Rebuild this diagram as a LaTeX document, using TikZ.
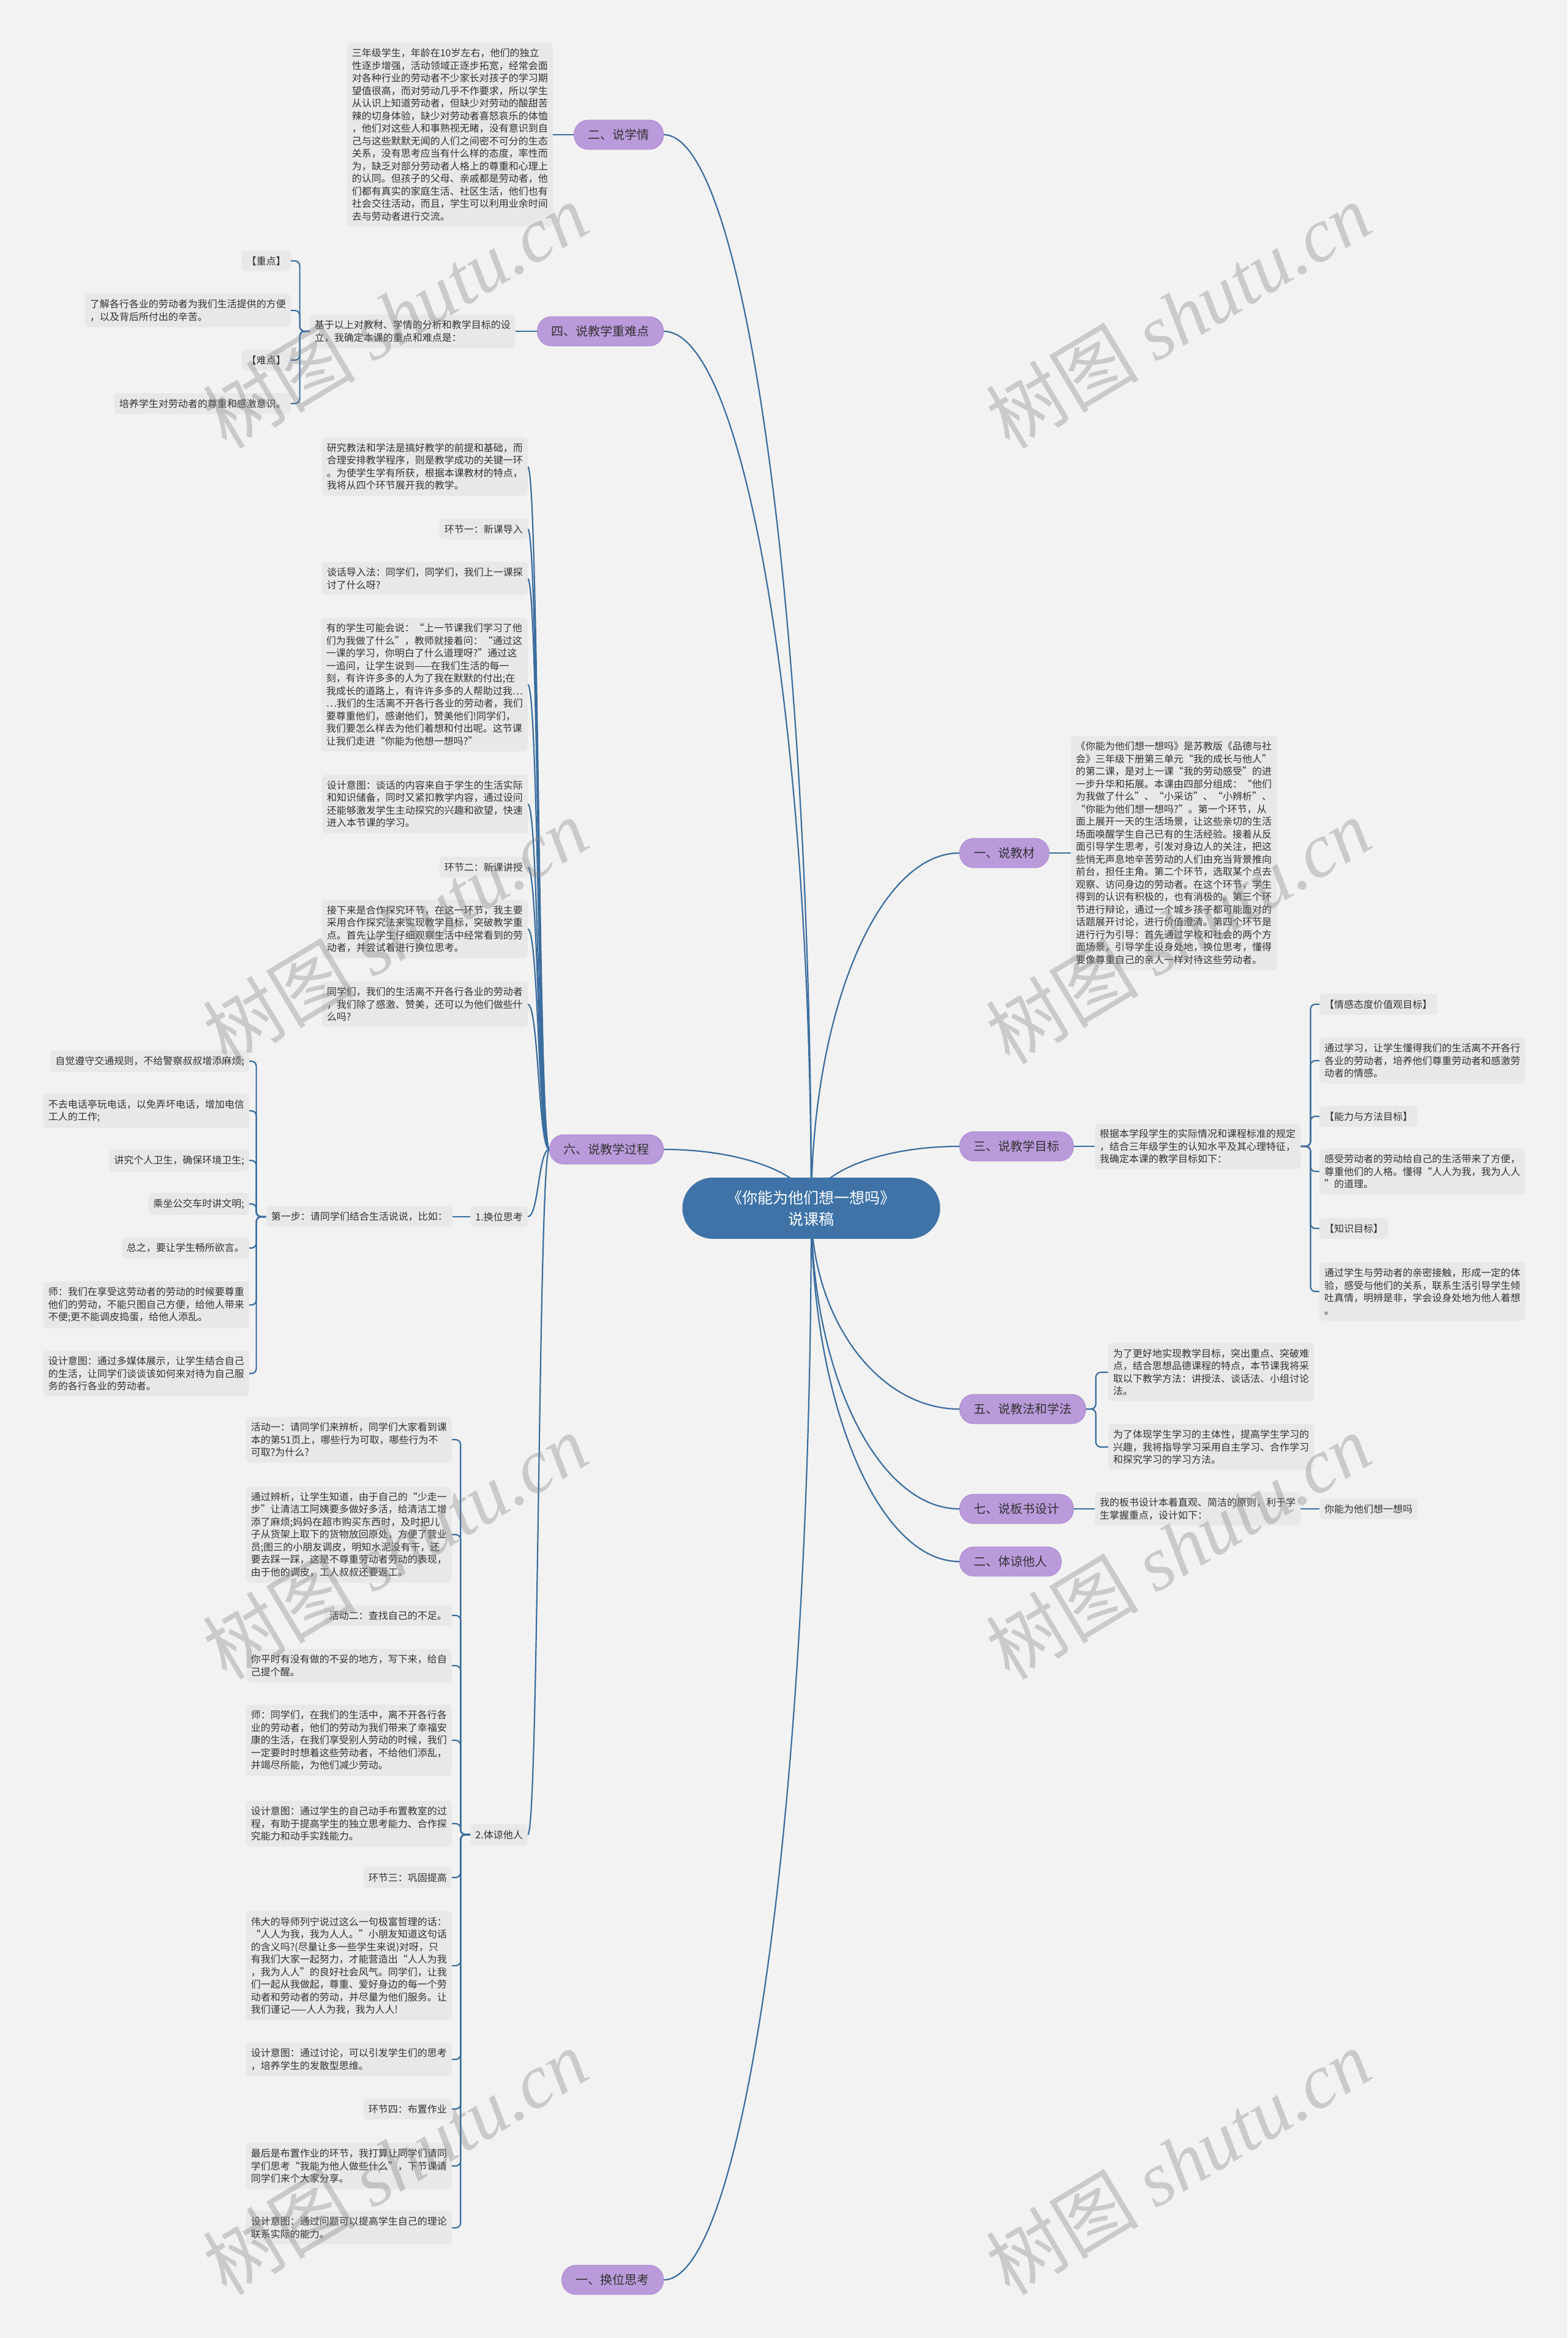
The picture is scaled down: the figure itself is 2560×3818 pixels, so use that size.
\documentclass[tikz,border=0pt]{standalone}
\usepackage{fontspec}
\setmainfont{Noto Sans CJK SC}
\newfontfamily\wmlatin{Liberation Serif}
\usetikzlibrary{calc}
\definecolor{paper}{HTML}{F2F2F2}
\definecolor{boxgray}{HTML}{E8E8E8}
\definecolor{inkgray}{HTML}{333333}
\definecolor{linkblue}{HTML}{3B6D9E}
\definecolor{rootblue}{HTML}{3F73A7}
\definecolor{topicpurple}{HTML}{B99BDB}
\definecolor{topicedge}{HTML}{A985CF}
\pgfdeclarelayer{paperlayer}
\pgfdeclarelayer{linklayer}
\pgfsetlayers{paperlayer,linklayer,main}
\tikzstyle{root} = [rectangle, rounded corners=50pt, fill=rootblue, text=white,
align=center, minimum width=421pt, minimum height=100pt,
font=\fontsize{25}{35}\selectfont]
\tikzstyle{topic} = [rectangle, rounded corners=23pt, fill=topicpurple,
draw=topicedge, line width=0.8pt, text=inkgray, minimum height=48pt,
inner xsep=23pt, font=\fontsize{20}{24}\selectfont]
\tikzstyle{note} = [rectangle, rounded corners=6pt, fill=boxgray, text=inkgray,
align=left, inner xsep=8pt, inner ysep=9.5pt,
font=\fontsize{16}{20.5}\selectfont]
\tikzstyle{link} = [draw=linkblue, line width=2.2pt]
\tikzstyle{fork} = [link, rounded corners=8pt]
\tikzstyle{wmark} = [text=gray, text opacity=0.35, rotate=31,
font=\fontsize{125}{125}\selectfont]
% trunk curve: leaves the root upright, meets the topic level flat
\newcommand{\trunk}[2]{\draw[link] (#1) .. controls ($(#1)!0.55!(#1|-#2)$) and ($(#2)!0.55!(#1|-#2)$) .. (#2);}

\begin{document}
\begin{tikzpicture}[x=1pt, y=-1pt]
\begin{pgfonlayer}{paperlayer}
\fill[paper] (0,0) rectangle (2560,3818);
\end{pgfonlayer}
\useasboundingbox (0,0) rectangle (2560,3818);

\node[root] (root) at (1325,1973) {《你能为他们想一想吗》\\说课稿};

% main topics
\node[topic, anchor=east] (xueqing) at (1084,220) {二、说学情};
\node[topic, anchor=east] (zhongnan) at (1084,541) {四、说教学重难点};
\node[topic, anchor=east] (guocheng) at (1084,1877) {六、说教学过程};
\node[topic, anchor=east] (huanwei) at (1084,3723) {一、换位思考};
\node[topic, anchor=west] (jiaocai) at (1567,1393) {一、说教材};
\node[topic, anchor=west] (mubiao) at (1567,1872) {三、说教学目标};
\node[topic, anchor=west] (fangfa) at (1567,2301) {五、说教法和学法};
\node[topic, anchor=west] (banshu) at (1567,2464) {七、说板书设计};
\node[topic, anchor=west] (tiliang) at (1567,2550) {二、体谅他人};

% left side
\node[note, anchor=east] (xueqingtxt) at (903,220) {三年级学生，年龄在10岁左右，他们的独立\\性逐步增强，活动领域正逐步拓宽，经常会面\\对各种行业的劳动者不少家长对孩子的学习期\\望值很高，而对劳动几乎不作要求，所以学生\\从认识上知道劳动者，但缺少对劳动的酸甜苦\\辣的切身体验，缺少对劳动者喜怒哀乐的体恤\\，他们对这些人和事熟视无睹，没有意识到自\\己与这些默默无闻的人们之间密不可分的生态\\关系，没有思考应当有什么样的态度，率性而\\为，缺乏对部分劳动者人格上的尊重和心理上\\的认同。但孩子的父母、亲戚都是劳动者，他\\们都有真实的家庭生活、社区生活，他们也有\\社会交往活动，而且，学生可以利用业余时间\\去与劳动者进行交流。};

\node[note, anchor=east] (zntxt) at (842,541) {基于以上对教材、学情的分析和教学目标的设\\立，我确定本课的重点和难点是：};
\node[note, anchor=east] (zdlabel) at (475,426) {【重点】};
\node[note, anchor=east] (zdtxt) at (475,507) {了解各行各业的劳动者为我们生活提供的方便\\，以及背后所付出的辛苦。};
\node[note, anchor=east] (ndlabel) at (475,588) {【难点】};
\node[note, anchor=east] (ndtxt) at (475,659) {培养学生对劳动者的尊重和感激意识。};

\node[note, anchor=east] (gc1) at (862,762) {研究教法和学法是搞好教学的前提和基础，而\\合理安排教学程序，则是教学成功的关键一环\\。为使学生学有所获，根据本课教材的特点，\\我将从四个环节展开我的教学。};
\node[note, anchor=east] (gc2) at (862,864) {环节一：新课导入};
\node[note, anchor=east] (gc3) at (862,945) {谈话导入法：同学们，同学们，我们上一课探\\讨了什么呀?};
\node[note, anchor=east] (gc4) at (862,1118) {有的学生可能会说：“上一节课我们学习了他\\们为我做了什么”，教师就接着问：“通过这\\一课的学习，你明白了什么道理呀?”通过这\\一追问，让学生说到——在我们生活的每一\\刻，有许许多多的人为了我在默默的付出;在\\我成长的道路上，有许许多多的人帮助过我…\\…我们的生活离不开各行各业的劳动者，我们\\要尊重他们，感谢他们，赞美他们!同学们，\\我们要怎么样去为他们着想和付出呢。这节课\\让我们走进“你能为他想一想吗?”};
\node[note, anchor=east] (gc5) at (862,1313) {设计意图：谈话的内容来自于学生的生活实际\\和知识储备，同时又紧扣教学内容，通过设问\\还能够激发学生主动探究的兴趣和欲望，快速\\进入本节课的学习。};
\node[note, anchor=east] (gc6) at (862,1416) {环节二：新课讲授};
\node[note, anchor=east] (gc7) at (862,1517) {接下来是合作探究环节，在这一环节，我主要\\采用合作探究法来实现教学目标，突破教学重\\点。首先让学生仔细观察生活中经常看到的劳\\动者，并尝试着进行换位思考。};
\node[note, anchor=east] (gc8) at (862,1640) {同学们，我们的生活离不开各行各业的劳动者\\，我们除了感激、赞美，还可以为他们做些什\\么吗?};
\node[note, anchor=east] (gc9) at (862,1987) {1.换位思考};
\node[note, anchor=east] (gc10) at (862,2996) {2.体谅他人};

\node[note, anchor=east] (buzhou) at (739,1987) {第一步：请同学们结合生活说说，比如：};
\node[note, anchor=east] (bz1) at (407,1733) {自觉遵守交通规则，不给警察叔叔增添麻烦;};
\node[note, anchor=east] (bz2) at (407,1814) {不去电话亭玩电话，以免弄坏电话，增加电信\\工人的工作;};
\node[note, anchor=east] (bz3) at (407,1895) {讲究个人卫生，确保环境卫生;};
\node[note, anchor=east] (bz4) at (407,1966) {乘坐公交车时讲文明;};
\node[note, anchor=east] (bz5) at (407,2038) {总之，要让学生畅所欲言。};
\node[note, anchor=east] (bz6) at (407,2131) {师：我们在享受这劳动者的劳动的时候要尊重\\他们的劳动，不能只图自己方便，给他人带来\\不便;更不能调皮捣蛋，给他人添乱。};
\node[note, anchor=east] (bz7) at (407,2243) {设计意图：通过多媒体展示，让学生结合自己\\的生活，让同学们谈谈该如何来对待为自己服\\务的各行各业的劳动者。};

\node[note, anchor=east] (tl1) at (738,2351) {活动一：请同学们来辨析，同学们大家看到课\\本的第51页上，哪些行为可取，哪些行为不\\可取?为什么?};
\node[note, anchor=east] (tl2) at (738,2506) {通过辨析，让学生知道，由于自己的“少走一\\步”让清洁工阿姨要多做好多活，给清洁工增\\添了麻烦;妈妈在超市购买东西时，及时把儿\\子从货架上取下的货物放回原处，方便了营业\\员;图三的小朋友调皮，明知水泥没有干，还\\要去踩一踩，这是不尊重劳动者劳动的表现，\\由于他的调皮，工人叔叔还要返工。};
\node[note, anchor=east] (tl3) at (738,2638) {活动二：查找自己的不足。};
\node[note, anchor=east] (tl4) at (738,2720) {你平时有没有做的不妥的地方，写下来，给自\\己提个醒。};
\node[note, anchor=east] (tl5) at (738,2842) {师：同学们，在我们的生活中，离不开各行各\\业的劳动者，他们的劳动为我们带来了幸福安\\康的生活，在我们享受别人劳动的时候，我们\\一定要时时想着这些劳动者，不给他们添乱，\\并竭尽所能，为他们减少劳动。};
\node[note, anchor=east] (tl6) at (738,2978) {设计意图：通过学生的自己动手布置教室的过\\程，有助于提高学生的独立思考能力、合作探\\究能力和动手实践能力。};
\node[note, anchor=east] (tl7) at (738,3066) {环节三：巩固提高};
\node[note, anchor=east] (tl8) at (738,3210) {伟大的导师列宁说过这么一句极富哲理的话：\\“人人为我，我为人人。”小朋友知道这句话\\的含义吗?(尽量让多一些学生来说)对呀，只\\有我们大家一起努力，才能营造出“人人为我\\，我为人人”的良好社会风气。同学们，让我\\们一起从我做起，尊重、爱好身边的每一个劳\\动者和劳动者的劳动，并尽量为他们服务。让\\我们谨记——人人为我，我为人人!};
\node[note, anchor=east] (tl9) at (738,3363) {设计意图：通过讨论，可以引发学生们的思考\\，培养学生的发散型思维。};
\node[note, anchor=east] (tl10) at (738,3444) {环节四：布置作业};
\node[note, anchor=east] (tl11) at (738,3537) {最后是布置作业的环节，我打算让同学们请同\\学们思考“我能为他人做些什么”，下节课请\\同学们来个大家分享。};
\node[note, anchor=east] (tl12) at (738,3638) {设计意图：通过问题可以提高学生自己的理论\\联系实际的能力。};

% right side
\node[note, anchor=west] (jctxt) at (1749,1393) {《你能为他们想一想吗》是苏教版《品德与社\\会》三年级下册第三单元“我的成长与他人”\\的第二课，是对上一课“我的劳动感受”的进\\一步升华和拓展。本课由四部分组成：“他们\\为我做了什么”、“小采访”、“小辨析”、\\“你能为他们想一想吗?”。第一个环节，从\\面上展开一天的生活场景，让这些亲切的生活\\场面唤醒学生自己已有的生活经验。接着从反\\面引导学生思考，引发对身边人的关注，把这\\些悄无声息地辛苦劳动的人们由充当背景推向\\前台，担任主角。第二个环节，选取某个点去\\观察、访问身边的劳动者。在这个环节，学生\\得到的认识有积极的，也有消极的。第三个环\\节进行辩论，通过一个城乡孩子都可能面对的\\话题展开讨论，进行价值澄清。第四个环节是\\进行行为引导：首先通过学校和社会的两个方\\面场景，引导学生设身处地，换位思考，懂得\\要像尊重自己的亲人一样对待这些劳动者。};

\node[note, anchor=west] (mbtxt) at (1788,1872) {根据本学段学生的实际情况和课程标准的规定\\，结合三年级学生的认知水平及其心理特征，\\我确定本课的教学目标如下：};
\node[note, anchor=west] (mb1) at (2155,1640) {【情感态度价值观目标】};
\node[note, anchor=west] (mb2) at (2155,1732) {通过学习，让学生懂得我们的生活离不开各行\\各业的劳动者，培养他们尊重劳动者和感激劳\\动者的情感。};
\node[note, anchor=west] (mb3) at (2155,1823) {【能力与方法目标】};
\node[note, anchor=west] (mb4) at (2155,1913) {感受劳动者的劳动给自己的生活带来了方便，\\尊重他们的人格。懂得“人人为我，我为人人\\”的道理。};
\node[note, anchor=west] (mb5) at (2155,2006) {【知识目标】};
\node[note, anchor=west] (mb6) at (2155,2109) {通过学生与劳动者的亲密接触，形成一定的体\\验，感受与他们的关系，联系生活引导学生倾\\吐真情，明辨是非，学会设身处地为他人着想\\。};

\node[note, anchor=west] (ff1) at (1810,2241) {为了更好地实现教学目标，突出重点、突破难\\点，结合思想品德课程的特点，本节课我将采\\取以下教学方法：讲授法、谈话法、小组讨论\\法。};
\node[note, anchor=west] (ff2) at (1810,2363) {为了体现学生学习的主体性，提高学生学习的\\兴趣，我将指导学习采用自主学习、合作学习\\和探究学习的学习方法。};

\node[note, anchor=west] (bstxt) at (1788,2464) {我的板书设计本着直观、简洁的原则，利于学\\生掌握重点，设计如下：};
\node[note, anchor=west] (bsword) at (2155,2464) {你能为他们想一想吗};

\begin{pgfonlayer}{linklayer}
\foreach \t in {xueqing,zhongnan,guocheng,huanwei}
  {\trunk{root.center}{\t.east}}
\foreach \t in {jiaocai,mubiao,fangfa,banshu,tiliang}
  {\trunk{root.center}{\t.west}}
\draw[link] (xueqing.west) -- (xueqingtxt.east);
\draw[link] (zhongnan.west) -- (zntxt.east);
\foreach \n in {zdlabel,zdtxt,ndlabel,ndtxt}
  \draw[fork] (zntxt.west) -- ++(-16,0) |- (\n.east);
\foreach \n in {gc1,gc2,gc3,gc4,gc5,gc6,gc7,gc8,gc9,gc10}
  \draw[link] (guocheng.west) .. controls +(-18,0) and +(18,0) .. (\n.east);
\draw[link] (gc9.west) -- (buzhou.east);
\foreach \n in {bz1,bz2,bz3,bz4,bz5,bz6,bz7}
  \draw[fork] (buzhou.west) -- ++(-16,0) |- (\n.east);
\foreach \n in {tl1,tl2,tl3,tl4,tl5,tl6,tl7,tl8,tl9,tl10,tl11,tl12}
  \draw[fork] (gc10.west) -- ++(-16,0) |- (\n.east);
\draw[link] (jiaocai.east) -- (jctxt.west);
\draw[link] (mubiao.east) -- (mbtxt.west);
\foreach \n in {mb1,mb2,mb3,mb4,mb5,mb6}
  \draw[fork] (mbtxt.east) -- ++(16,0) |- (\n.west);
\foreach \n in {ff1,ff2}
  \draw[fork] (fangfa.east) -- ++(16,0) |- (\n.west);
\draw[link] (banshu.east) -- (bstxt.west);
\draw[link] (bstxt.east) -- (bsword.west);
\end{pgfonlayer}

% watermark
\foreach \wx/\wn in {645/l,1924/r}
  \foreach \wy in {515,1520,2525,3530}
    \node[wmark] (wm\wn\wy) at (\wx,\wy) {树图 {\wmlatin\itshape shutu.cn}};
\end{tikzpicture}
\end{document}
